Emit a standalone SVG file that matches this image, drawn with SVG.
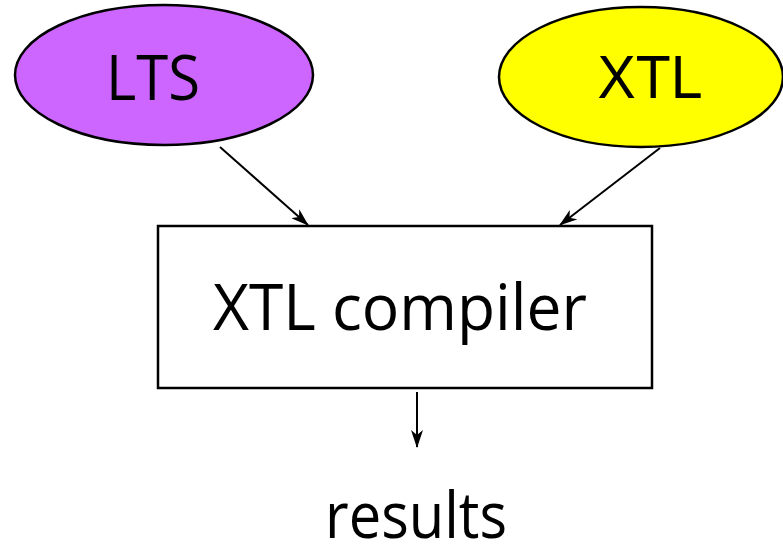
<svg xmlns="http://www.w3.org/2000/svg" width="783" height="545" viewBox="0 0 783 545">
  <style>
    .shape { stroke: #000; stroke-width: 2.5; }
    .label { font-family: "Open Sans", "DejaVu Sans", sans-serif; fill: #000; text-anchor: middle; }
    .edge { stroke: #000; stroke-width: 2; fill: none; }
  </style>
  <defs>
    <marker id="arrow" viewBox="0 0 18 12" refX="17" refY="6" markerWidth="18" markerHeight="12" markerUnits="userSpaceOnUse" orient="auto">
      <path d="M0,0 L18,6 L0,12 L5,6 Z" fill="#000"/>
    </marker>
  </defs>
  <rect width="783" height="545" fill="#fff"/>

  <g id="lts">
    <ellipse class="shape" cx="164" cy="75" rx="149" ry="70" fill="#cc66ff"/>
    <text class="label" x="153" y="100" font-size="62" textLength="94" lengthAdjust="spacingAndGlyphs">LTS</text>
  </g>

  <g id="xtl">
    <ellipse class="shape" cx="641" cy="77" rx="142" ry="70" fill="#ffff00"/>
    <text class="label" x="650" y="98" font-size="62" style="font-family:'Liberation Sans', Arial, sans-serif" textLength="105" lengthAdjust="spacingAndGlyphs">XTL</text>
  </g>

  <g id="compiler">
    <rect class="shape" x="158" y="226" width="494" height="162" fill="#fff"/>
    <text class="label" x="400" y="330" font-size="64" textLength="374" lengthAdjust="spacingAndGlyphs">XTL compiler</text>
  </g>

  <g id="results">
    <text class="label" x="416" y="538" font-size="64" textLength="182" lengthAdjust="spacingAndGlyphs">results</text>
  </g>

  <g id="connectors">
    <line class="edge" x1="220" y1="147" x2="308" y2="225" marker-end="url(#arrow)"/>
    <line class="edge" x1="660" y1="148" x2="560" y2="225" marker-end="url(#arrow)"/>
    <line class="edge" x1="417" y1="392" x2="417" y2="447" marker-end="url(#arrow)"/>
  </g>
</svg>
